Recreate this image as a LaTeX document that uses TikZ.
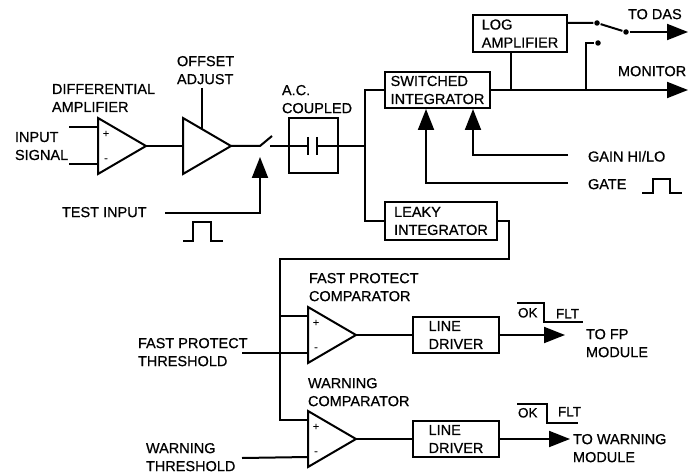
\documentclass[tikz,border=0pt]{standalone}
\usepackage{fontspec}
\setmainfont{Liberation Sans}[FakeBold=0.7]
\usetikzlibrary{arrows.meta}

\begin{document}
\begin{tikzpicture}[x=1pt, y=-1pt, line width=2pt,
	lbl/.style={anchor=north west, inner sep=0pt, align=left, font=\fontsize{14.5}{18}\selectfont},
	blk/.style={draw, inner sep=0pt, align=left, font=\fontsize{14.5}{18}\selectfont},
	sgn/.style={inner sep=0pt, font=\fontsize{11}{11}\selectfont},
	lvl/.style={anchor=north west, inner sep=0pt, font=\fontsize{13.5}{13.5}\selectfont},
	arr/.style={-{Triangle[length=21pt,width=16pt]}},
	dot/.style={circle, fill, inner sep=0pt, minimum size=5.5pt}]
				\useasboundingbox (0,0) rectangle (698,473);
				% amplifiers and comparators
				\foreach \n/\x/\y in {dif/98/146, off/183/146, cfp/308/335, cwr/308/439} {
					\draw (\x,\y-28) -- (\x+48,\y) -- (\x,\y+28) -- cycle;
					\coordinate (\n-p) at (\x,\y-19);
					\coordinate (\n-m) at (\x,\y+18);
					\coordinate (\n-o) at (\x+48,\y);
				}
				\foreach \n/\x/\y in {sdif/98/146, scfp/308/335, scwr/308/439} {
					\node[sgn] (\n-a) at (\x+8,\y-12) {+};
					\node[sgn] (\n-b) at (\x+8,\y+14) {-};
				}
				% blocks
				\node[blk, minimum width=49pt, minimum height=55pt] (ac) at (313.5,145.5) {};
				\node[blk, minimum width=105pt, minimum height=36pt] (sw) at (437.5,90) {SWITCHED\\INTEGRATOR};
				\node[blk, minimum width=94pt, minimum height=37pt] (log) at (520,33.5) {LOG\\AMPLIFIER};
				\node[blk, minimum width=112pt, minimum height=38pt] (lk) at (441,221) {LEAKY\\INTEGRATOR};
				\node[blk, minimum width=86pt, minimum height=36pt] (ld1) at (456,335) {LINE\\DRIVER};
				\node[blk, minimum width=86pt, minimum height=36pt] (ld2) at (456,439) {LINE\\DRIVER};
				% free ends
				\coordinate (in1) at (69,127);
				\coordinate (in2) at (69,164);
				\coordinate (adj) at (202,88);
				\coordinate (adjb) at (202,129);
				\coordinate (swa) at (260,146);
				\coordinate (swb) at (272,136);
				\coordinate (swc) at (270,146);
				\coordinate (capl) at (308,146);
				\coordinate (capr) at (317,146);
				\coordinate (jn) at (365,146);
				\coordinate (ti) at (165,213);
				\coordinate (tt) at (260,157);
				\coordinate (mon) at (688,90);
				\coordinate (tap) at (511,90);
				\coordinate (mt) at (586,90);
				\coordinate (das) at (688,32);
				\coordinate (gn) at (568,155);
				\coordinate (gt) at (568,183);
				\coordinate (bend) at (509,259);
				\coordinate (bus) at (280,259);
				\coordinate (fpt) at (242,353);
				\coordinate (wrt) at (242,458);
				\coordinate (fp) at (565,335);
				\coordinate (wm) at (570,439);
				\node[dot] (d1) at (597,23) {};
				\node[dot] (d2) at (626,32) {};
				\node[dot] (d3) at (598,43) {};
				% connectors
				\draw (in1) -- (dif-p);
				\draw (in2) -- (dif-m);
				\draw (dif-o) -- (off-p |- dif-o);
				\draw (adj) -- (adjb);
				\draw (off-o) -- (swa) -- (swb);
				\draw (swc) -- (capl);
				\draw (capl |- 0,137) -- (capl |- 0,155);
				\draw (capr |- 0,137) -- (capr |- 0,155);
				\draw (capr) -- (jn);
				\draw[arr] (ti) -| (tt);
				\draw (jn) |- (sw.west);
				\draw (jn) |- (lk.west);
				\draw[arr] (sw.east) -- (mon);
				\draw (tap) -- (tap |- log.south);
				\draw (log.east |- d1) -- (d1) -- (d2);
				\draw[arr] (d2) -- (das);
				\draw (mt) |- (d3);
				\draw[arr] (gn) -| ([xshift=35.5pt]sw.south);
				\draw[arr] (gt) -| ([xshift=-11.5pt]sw.south);
				\draw (lk.east) -| (bend) -- (bus) |- (cwr-p);
				\draw (bus |- cfp-p) -- (cfp-p);
				\draw (fpt) -- (cfp-m);
				\draw (wrt) -- (cwr-m);
				\draw (cfp-o) -- (ld1.west);
				\draw (cwr-o) -- (ld2.west);
				\draw[arr] (ld1.east) -- (fp);
				\draw[arr] (ld2.east) -- (wm);
				% pulses and levels
				\draw (183,241) -- (193,241) -- (193,222) -- (211,222) -- (211,241) -- (223,241);
				\draw (642,193) -- (653,193) -- (653,179) -- (670,179) -- (670,193) -- (682,193);
				\draw[line width=1.5pt] (517,303) -- (544,303) -- (544,322) -- (583,322);
				\draw[line width=1.5pt] (517,404) -- (547,404) -- (547,423) -- (578,423);
				\node[lvl] (ok1) at (517,307) {OK};
				\node[lvl] (flt1) at (555,308) {FLT};
				\node[lvl] (ok2) at (517,407) {OK};
				\node[lvl] (flt2) at (557,406) {FLT};
				% labels
				\node[lbl] (l-in) at (14,131) {INPUT\\SIGNAL};
				\node[lbl] (l-dif) at (51,83) {DIFFERENTIAL\\AMPLIFIER};
				\node[lbl] (l-off) at (176,55) {OFFSET\\ADJUST};
				\node[lbl] (l-ac) at (281,84) {A.C.\\COUPLED};
				\node[lbl] (l-ti) at (61,206) {TEST INPUT};
				\node[lbl] (l-das) at (627,8) {TO DAS};
				\node[lbl] (l-mon) at (617,65) {MONITOR};
				\node[lbl] (l-gn) at (587,150) {GAIN HI/LO};
				\node[lbl] (l-gt) at (587,178) {GATE};
				\node[lbl] (l-cfp) at (308,272) {FAST PROTECT\\COMPARATOR};
				\node[lbl] (l-fpt) at (137,337) {FAST PROTECT\\THRESHOLD};
				\node[lbl] (l-cwr) at (307,377) {WARNING\\COMPARATOR};
				\node[lbl] (l-wrt) at (145,442) {WARNING\\THRESHOLD};
				\node[lbl] (l-fp) at (585,328) {TO FP\\MODULE};
				\node[lbl] (l-wm) at (572,433) {TO WARNING\\MODULE};
			\end{tikzpicture}
\end{document}
